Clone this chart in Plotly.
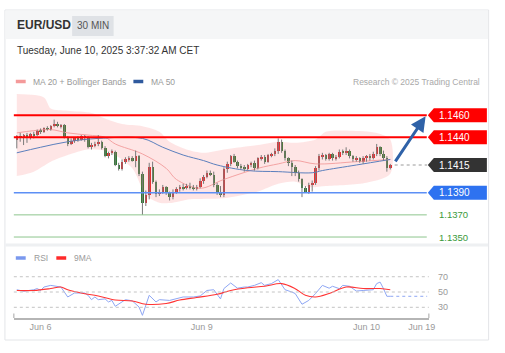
import plotly.graph_objects as go

W, H = 505, 353

# ---------------- text ----------------
symbol = "EUR/USD"
timeframe = "30 MIN"
timestamp = "Tuesday, June 10, 2025 3:37:32 AM CET"
copyright_text = "Research © 2025 Trading Central"

# ---------------- candles (30 min bars) ----------------
opens = [1.1438, 1.1441, 1.1439, 1.1442, 1.1440, 1.1443, 1.1442, 1.1446, 1.1445, 1.1448,
         1.1447, 1.1450, 1.1452, 1.1450, 1.1451, 1.1440, 1.1434, 1.1437, 1.1439, 1.1438,
         1.1441, 1.1439, 1.1431, 1.1433, 1.1434, 1.1436, 1.1430, 1.1423, 1.1426, 1.1427,
         1.1415, 1.1411, 1.1418, 1.1420, 1.1421, 1.1419, 1.1423, 1.1407, 1.1381, 1.1388,
         1.1413, 1.1400, 1.1389, 1.1391, 1.1395, 1.1390, 1.1386, 1.1391, 1.1393, 1.1395,
         1.1394, 1.1396, 1.1395, 1.1394, 1.1395, 1.1401, 1.1404, 1.1408, 1.1406, 1.1397,
         1.1390, 1.1388, 1.1411, 1.1416, 1.1423, 1.1418, 1.1414, 1.1413, 1.1411, 1.1415,
         1.1417, 1.1412, 1.1421, 1.1422, 1.1418, 1.1424, 1.1425, 1.1428, 1.1436, 1.1428,
         1.1421, 1.1417, 1.1413, 1.1408, 1.1402, 1.1394, 1.1391, 1.1397, 1.1399, 1.1412,
         1.1423, 1.1424, 1.1420, 1.1425, 1.1421, 1.1422, 1.1427, 1.1426, 1.1428, 1.1423,
         1.1420, 1.1421, 1.1418, 1.1421, 1.1423, 1.1421, 1.1425, 1.1431, 1.1425, 1.1421,
         1.1412]
highs = [1.1442, 1.1444, 1.1443, 1.1444, 1.1444, 1.1445, 1.1447, 1.1448, 1.1449, 1.1450,
         1.1451, 1.1456, 1.1454, 1.1452, 1.1452, 1.1441, 1.1439, 1.1440, 1.1441, 1.1442,
         1.1442, 1.1441, 1.1435, 1.1436, 1.1442, 1.1437, 1.1432, 1.1427, 1.1429, 1.1428,
         1.1417, 1.1420, 1.1422, 1.1423, 1.1423, 1.1428, 1.1424, 1.1409, 1.1392, 1.1417,
         1.1418, 1.1401, 1.1393, 1.1397, 1.1396, 1.1391, 1.1393, 1.1395, 1.1397, 1.1398,
         1.1398, 1.1399, 1.1397, 1.1397, 1.1403, 1.1406, 1.1410, 1.1410, 1.1409, 1.1399,
         1.1396, 1.1413, 1.1418, 1.1424, 1.1425, 1.1419, 1.1416, 1.1415, 1.1416, 1.1418,
         1.1419, 1.1422, 1.1424, 1.1424, 1.1425, 1.1426, 1.1430, 1.1439, 1.1438, 1.1429,
         1.1422, 1.1419, 1.1415, 1.1410, 1.1403, 1.1396, 1.1399, 1.1401, 1.1414, 1.1425,
         1.1426, 1.1425, 1.1426, 1.1426, 1.1424, 1.1429, 1.1429, 1.1431, 1.1429, 1.1424,
         1.1423, 1.1422, 1.1423, 1.1424, 1.1425, 1.1427, 1.1434, 1.1432, 1.1428, 1.1423,
         1.1416]
lows = [1.1430, 1.1436, 1.1433, 1.1435, 1.1438, 1.1439, 1.1441, 1.1443, 1.1444, 1.1446,
        1.1446, 1.1449, 1.1449, 1.1448, 1.1439, 1.1432, 1.1433, 1.1435, 1.1436, 1.1437,
        1.1436, 1.1430, 1.1429, 1.1431, 1.1432, 1.1429, 1.1422, 1.1421, 1.1424, 1.1414,
        1.1410, 1.1410, 1.1416, 1.1418, 1.1418, 1.1413, 1.1405, 1.1370, 1.1378, 1.1384,
        1.1398, 1.1386, 1.1387, 1.1389, 1.1388, 1.1383, 1.1384, 1.1389, 1.1391, 1.1392,
        1.1393, 1.1393, 1.1392, 1.1392, 1.1394, 1.1398, 1.1403, 1.1405, 1.1395, 1.1388,
        1.1386, 1.1386, 1.1408, 1.1414, 1.1417, 1.1412, 1.1411, 1.1409, 1.1410, 1.1413,
        1.1410, 1.1411, 1.1419, 1.1416, 1.1417, 1.1422, 1.1423, 1.1425, 1.1426, 1.1419,
        1.1414, 1.1405, 1.1405, 1.1400, 1.1386, 1.1390, 1.1389, 1.1391, 1.1397, 1.1410,
        1.1420, 1.1419, 1.1419, 1.1419, 1.1419, 1.1421, 1.1424, 1.1424, 1.1421, 1.1418,
        1.1418, 1.1417, 1.1416, 1.1418, 1.1419, 1.1420, 1.1423, 1.1423, 1.1419, 1.1409,
        1.1411]
closes = [1.1441, 1.1439, 1.1442, 1.1440, 1.1443, 1.1442, 1.1446, 1.1445, 1.1448, 1.1447,
          1.1450, 1.1452, 1.1450, 1.1451, 1.1440, 1.1434, 1.1437, 1.1439, 1.1438, 1.1441,
          1.1439, 1.1431, 1.1433, 1.1434, 1.1436, 1.1430, 1.1423, 1.1426, 1.1427, 1.1415,
          1.1411, 1.1418, 1.1420, 1.1421, 1.1419, 1.1423, 1.1407, 1.1381, 1.1388, 1.1413,
          1.1400, 1.1389, 1.1391, 1.1395, 1.1390, 1.1386, 1.1391, 1.1393, 1.1395, 1.1394,
          1.1396, 1.1395, 1.1394, 1.1395, 1.1401, 1.1404, 1.1408, 1.1406, 1.1397, 1.1390,
          1.1388, 1.1411, 1.1416, 1.1423, 1.1418, 1.1414, 1.1413, 1.1411, 1.1415, 1.1417,
          1.1412, 1.1421, 1.1422, 1.1418, 1.1424, 1.1425, 1.1428, 1.1436, 1.1428, 1.1421,
          1.1417, 1.1413, 1.1408, 1.1402, 1.1394, 1.1391, 1.1397, 1.1399, 1.1412, 1.1423,
          1.1424, 1.1420, 1.1425, 1.1421, 1.1422, 1.1427, 1.1426, 1.1428, 1.1423, 1.1420,
          1.1421, 1.1418, 1.1421, 1.1423, 1.1421, 1.1425, 1.1431, 1.1425, 1.1421, 1.1412,
          1.1415]

# ---------------- indicators (bar index, value) ----------------
bb_upper_idx = [0, 8, 10, 15, 22, 26, 31, 37, 42, 45, 50, 55, 61, 71, 77, 82, 88, 91, 98, 106, 110]
bb_upper_val = [1.1479, 1.1476, 1.1466, 1.1464, 1.1462, 1.1457, 1.1452, 1.1450, 1.1445, 1.1436,
                1.1429, 1.1426, 1.1429, 1.1433, 1.1436, 1.1435, 1.1438, 1.1445, 1.1446, 1.1444, 1.1438]
bb_lower_idx = [0, 5, 10, 15, 21, 27, 34, 38, 42, 46, 51, 61, 71, 77, 82, 86, 91, 103, 110]
bb_lower_val = [1.1405, 1.1409, 1.1418, 1.1424, 1.1429, 1.1427, 1.1412, 1.1388, 1.1381, 1.1381,
                1.1384, 1.1385, 1.1391, 1.1398, 1.1400, 1.1395, 1.1396, 1.1399, 1.1407]
ma20_idx = [0, 5, 10, 15, 21, 26, 29, 37, 44, 47, 54, 61, 71, 77, 82, 88, 100, 110]
ma20_val = [1.1444, 1.1446, 1.1447, 1.1444, 1.1442, 1.1440, 1.1434, 1.1425, 1.1412, 1.1402,
            1.1394, 1.1402, 1.1412, 1.1416, 1.1419, 1.1416, 1.1418, 1.1420]
ma50_idx = [0, 7, 15, 24, 37, 43, 49, 55, 59, 68, 77, 87, 90, 100, 110]
ma50_val = [1.1426, 1.1431, 1.1436, 1.1439, 1.1439, 1.1431, 1.1424, 1.1419, 1.1415, 1.1410,
            1.1409, 1.1408, 1.1410, 1.1415, 1.1420]

rsi_idx = [0, 2, 5, 6, 7, 8, 10, 12, 13, 15, 17, 20, 21, 22, 23, 24, 26, 27, 28, 29,
           31, 32, 34, 36, 37, 39, 41, 42, 45, 47, 49, 52, 54, 56, 58, 60, 61, 63, 65, 67,
           68, 70, 72, 73, 75, 77, 78, 79, 81, 82, 84, 86, 88, 90, 92, 93, 95, 96, 98, 100,
           102, 105, 106, 107, 108, 109, 110]
rsi_val = [53, 51, 53, 54.5, 52, 56.5, 58.7, 57.5, 56.5, 43.5, 48.7, 48.7, 45.7, 40, 43.5, 40, 41, 37, 39, 31.3,
           37, 40, 38.5, 30.4, 19.5, 45.7, 37, 40, 39, 41, 43.5, 43.5, 44.8, 52, 53, 41, 54.5, 61.8, 55, 56.5,
           56.5, 58.7, 62.2, 58.7, 61, 66.2, 58.7, 53, 50, 48, 34, 39, 48, 58.7, 55, 57.5, 54.4, 58.7, 57.5, 51.3,
           52, 53, 61, 63, 54.4, 44.4, 44.4]
rsi_ma_idx = [0, 5, 10, 13, 15, 19, 24, 29, 34, 38, 44, 48, 53, 59, 63, 68, 73, 78, 82, 85, 88, 92, 97, 102, 107, 110]
rsi_ma_val = [52, 52, 54.5, 56.5, 53, 48.7, 44.8, 39.5, 38.3, 34, 35, 39.5, 42.8, 47, 52, 55.5, 57.5, 61,
              54.4, 45.7, 43.5, 48, 56.5, 54.5, 54.5, 53]

# ---------------- levels & axis labels ----------------
resistances = [1.1460, 1.1440]
pivot = 1.1415
support_main = 1.1390
supports_minor = [1.1370, 1.1350]
tick_positions = [7, 54.5, 103, 119.3]
tick_labels = ["Jun 6", "Jun 9", "Jun 10", "Jun 19"]
rsi_levels = [70, 50, 30]

# ---------------- layout helpers ----------------
FONT = "Liberation Sans, Arial, sans-serif"
def px(x):
    return x / W
def py(y):
    return 1 - y / H

X_RANGE = [-0.873, 121.36]
X_DOM = [px(14), px(434)]
RED_UP = "#e2262a"
GREEN_DN = "#2d7d32"

n = len(closes)
idx = list(range(n))

fig = go.Figure()

# Bollinger band area
fig.add_trace(go.Scatter(
    x=bb_upper_idx + bb_lower_idx[::-1], y=bb_upper_val + bb_lower_val[::-1],
    fill="toself", fillcolor="rgba(248,100,100,0.17)", line=dict(width=0, shape="spline", smoothing=0.8),
    mode="lines", hoverinfo="skip", xaxis="x", yaxis="y"))
# MA20
fig.add_trace(go.Scatter(x=ma20_idx, y=ma20_val, mode="lines",
                         line=dict(color="#f4a3a3", width=1, shape="spline"), hoverinfo="skip"))
# MA50
fig.add_trace(go.Scatter(x=ma50_idx, y=ma50_val, mode="lines",
                         line=dict(color="#5b7fbd", width=1, shape="spline"), hoverinfo="skip"))

# wicks
wx, wy = [], []
for i in idx:
    wx += [i, i, None]
    wy += [lows[i], highs[i], None]
fig.add_trace(go.Scatter(x=wx, y=wy, mode="lines", line=dict(color="#7a7a7a", width=1), hoverinfo="skip"))

# bodies
base = [min(o, c) for o, c in zip(opens, closes)]
height = [max(abs(c - o), 0.00005) for o, c in zip(opens, closes)]
colors = [RED_UP if c >= o else GREEN_DN for o, c in zip(opens, closes)]
fig.add_trace(go.Bar(x=idx, y=height, base=base, width=0.74, marker=dict(color=colors, line=dict(width=0)),
                     hoverinfo="skip", xaxis="x", yaxis="y"))

# RSI
fig.add_trace(go.Scatter(x=rsi_idx, y=rsi_val, mode="lines", line=dict(color="#8ea6f3", width=1),
                         xaxis="x2", yaxis="y2", hoverinfo="skip"))
fig.add_trace(go.Scatter(x=[rsi_idx[-1], X_RANGE[1] - 0.5], y=[rsi_val[-1], rsi_val[-1]], mode="lines",
                         line=dict(color="#8ea6f3", width=1, dash="dot"), xaxis="x2", yaxis="y2", hoverinfo="skip"))
fig.add_trace(go.Scatter(x=rsi_ma_idx, y=rsi_ma_val, mode="lines", line=dict(color="#ff3434", width=1.1, shape="spline"),
                         xaxis="x2", yaxis="y2", hoverinfo="skip"))

shapes = []
annotations = []

# card & header
shapes.append(dict(type="rect", xref="paper", yref="paper", x0=px(5), x1=px(494.5), y0=py(340), y1=py(10),
                   fillcolor="white", line=dict(color="#e3e5e8", width=1), layer="below"))
shapes.append(dict(type="rect", xref="paper", yref="paper", x0=px(5.5), x1=px(494), y0=py(39), y1=py(10.5),
                   fillcolor="#f5f6f7", line=dict(width=0), layer="below"))
shapes.append(dict(type="rect", xref="paper", yref="paper", x0=px(73), x1=px(115), y0=py(36), y1=py(16),
                   fillcolor="#dfe2e6", line=dict(width=0), layer="below"))
shapes.append(dict(type="rect", xref="paper", yref="paper", x0=px(5.5), x1=px(494), y0=py(246.5), y1=py(243.5),
                   fillcolor="#eef0f2", line=dict(width=0), layer="below"))

annotations.append(dict(text="<b>%s</b>" % symbol, x=px(15), y=py(25), xref="paper", yref="paper",
                        xanchor="left", yanchor="middle", showarrow=False, font=dict(family=FONT, size=12, color="#333")))
annotations.append(dict(text=timeframe, x=px(94), y=py(25.5), xref="paper", yref="paper",
                        xanchor="center", yanchor="middle", showarrow=False, font=dict(family=FONT, size=10, color="#555")))
annotations.append(dict(text=timestamp, x=px(15.5), y=py(50), xref="paper", yref="paper",
                        xanchor="left", yanchor="middle", showarrow=False, font=dict(family=FONT, size=10, color="#333")))

# legends
def legend_item(x_sw, y, color, label, x_txt):
    shapes.append(dict(type="line", xref="paper", yref="paper", x0=px(x_sw), x1=px(x_sw + 10), y0=py(y), y1=py(y),
                       line=dict(color=color, width=3.5)))
    annotations.append(dict(text=label, x=px(x_txt), y=py(y), xref="paper", yref="paper", xanchor="left",
                            yanchor="middle", showarrow=False, font=dict(family=FONT, size=8.5, color="#9a9a9a")))

legend_item(16, 81.5, "#f49a9a", "MA 20 + Bollinger Bands", 31.5)
legend_item(135, 81.5, "#2f5a9e", "MA 50", 150.5)
legend_item(16, 258, "#7a98ee", "RSI", 32)
legend_item(57, 258, "#ff2a2a", "9MA", 73)
annotations.append(dict(text=copyright_text, x=px(487.5), y=py(82), xref="paper", yref="paper", xanchor="right",
                        yanchor="middle", showarrow=False, font=dict(family=FONT, size=8.5, color="#a9a9a9")))

# level lines
for lv in resistances:
    shapes.append(dict(type="line", xref="x domain", yref="y", x0=0, x1=0.995, y0=lv, y1=lv,
                       line=dict(color="#ff0000", width=2)))
shapes.append(dict(type="line", xref="x domain", yref="y", x0=0, x1=0.995, y0=support_main, y1=support_main,
                   line=dict(color="#5d8ff5", width=1.5)))
for lv in supports_minor:
    shapes.append(dict(type="line", xref="x domain", yref="y", x0=0, x1=0.995, y0=lv, y1=lv,
                       line=dict(color="#8dc58d", width=1)))
shapes.append(dict(type="line", xref="x", yref="y", x0=n + 0.3, x1=X_RANGE[1] - 0.5, y0=pivot, y1=pivot,
                   line=dict(color="#9a9a9a", width=1, dash="dot")))

def price_tag(price, color):
    shapes.append(dict(type="path", xref="paper", yref="y", xsizemode="pixel", ysizemode="pixel",
                       xanchor=px(433), yanchor=price, path="M0,0 L6,7 L59,7 L59,-7 L6,-7 Z",
                       fillcolor=color, line=dict(width=0), layer="above"))
    annotations.append(dict(text="%.4f" % price, x=px(442), y=price, xref="paper", yref="y", xanchor="left",
                            yanchor="middle", showarrow=False, font=dict(family=FONT, size=10, color="white")))

price_tag(resistances[0], "#ff0000")
price_tag(resistances[1], "#ff0000")
price_tag(pivot, "#333333")
price_tag(support_main, "#2e72f0")
for lv in supports_minor:
    annotations.append(dict(text="%.4f" % lv, x=px(442), y=lv, xref="paper", yref="y", xanchor="left",
                            yanchor="middle", showarrow=False, font=dict(family=FONT, size=9.5, color="#3a9a3a")))

# target arrow (from last close towards first resistance)
annotations.append(dict(text="", x=120.4, y=resistances[0] - 0.0001, xref="x", yref="y",
                        ax=n + 0.2, ay=pivot + 0.0002, axref="x", ayref="y", showarrow=True,
                        arrowhead=2, arrowsize=1, arrowwidth=3, arrowcolor="#2f62a8"))

# RSI grid and labels
for lv in rsi_levels:
    shapes.append(dict(type="line", xref="x2 domain", yref="y2", x0=0, x1=1, y0=lv, y1=lv,
                       line=dict(color="#c4c4c4", width=1, dash="dot")))
    annotations.append(dict(text=str(lv), x=px(441.5), y=lv, xref="paper", yref="y2", xanchor="left",
                            yanchor="middle", showarrow=False, font=dict(family=FONT, size=9, color="#9a9a9a")))
# x axis end ticks
for xd in [0, 1]:
    shapes.append(dict(type="line", xref="x2 domain", yref="paper", x0=xd, x1=xd, y0=py(318), y1=py(313.5),
                       line=dict(color="#b5b5b5", width=1.2)))

fig.update_layout(
    width=W, height=H, margin=dict(l=0, r=0, t=0, b=0), autosize=False,
    paper_bgcolor="white", plot_bgcolor="rgba(0,0,0,0)",
    showlegend=False, barmode="overlay", bargap=0,
    shapes=shapes, annotations=annotations,
    xaxis=dict(domain=X_DOM, range=X_RANGE, visible=False, anchor="y", fixedrange=True),
    yaxis=dict(domain=[py(245), py(90)], range=[1.13428, 1.14827], visible=False, anchor="x"),
    xaxis2=dict(domain=X_DOM, range=X_RANGE, anchor="y2", showline=True, linecolor="#b5b5b5", linewidth=1.5,
                showgrid=False, zeroline=False, ticks="", tickvals=tick_positions, ticktext=tick_labels,
                tickfont=dict(family=FONT, size=9, color="#9a9a9a")),
    yaxis2=dict(domain=[py(317.7), py(268)], range=[16.4, 81.4], visible=False, anchor="x2"),
)

fig.write_html("out.html", config={"displayModeBar": False})
